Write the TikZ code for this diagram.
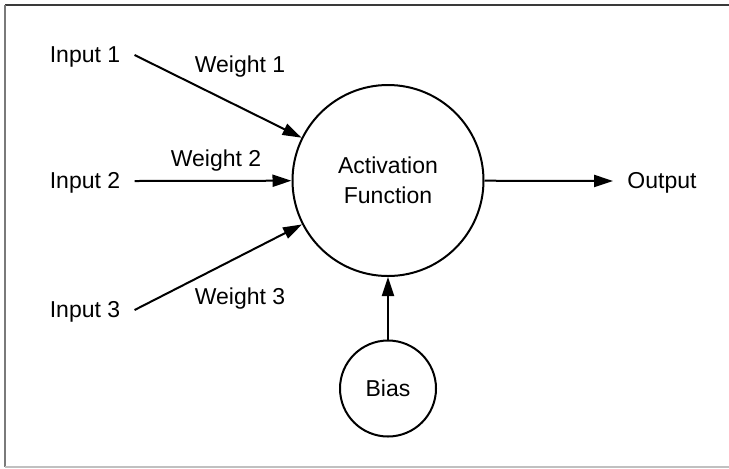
\documentclass[tikz,border=0pt]{standalone}
\usepackage{fontspec}
\setmainfont{Liberation Sans}
\usetikzlibrary{arrows.meta,positioning}
\definecolor{FrameDark}{HTML}{3A3A3A}
\definecolor{FrameMid}{HTML}{7A7A7A}
\definecolor{FrameLight}{HTML}{C0C0C0}

\begin{document}
\begin{tikzpicture}[x=0.5pt,y=-0.5pt, every node/.style={font=\fontsize{11.5}{15}\selectfont},
 unit/.style={draw,circle,line width=1pt,inner sep=0pt,align=center},
 lbl/.style={inner xsep=7pt,inner ysep=2pt},
 arr/.style={-{Triangle[length=9.5pt,width=6pt]},line width=1pt}]
\useasboundingbox (0,0) rectangle (729,468);
\draw[FrameDark,line width=1pt] (5,5) -- (729,5);
\draw[FrameMid,line width=1pt] (5,5) -- (5,467);
\draw[FrameLight,line width=1pt] (5,467) -- (729,467);
\node[unit,minimum size=95.5pt] (act) at (388,180.5) {Activation\\Function};
\node[unit,minimum size=48pt] (bias) at (388,388.5) {Bias};
\node[lbl] (in1) at (85,57) {Input 1};
\node[lbl] (in2) at (85,183) {Input 2};
\node[lbl] (in3) at (85,312) {Input 3};
\node[lbl] (out) at (662,183) {Output};
\node (w1) at (240,67) {Weight 1};
\node (w2) at (216,161) {Weight 2};
\node (w3) at (240,299) {Weight 3};
\draw[arr] ([yshift=1pt]in1.east) -- (act);
\draw[arr] ([yshift=1pt]in2.east) -- (act);
\draw[arr] ([yshift=1pt]in3.east) -- (act);
\draw[arr] (bias) -- (act);
\draw[arr] (act) -- ([yshift=1pt]out.west);
\end{tikzpicture}
\end{document}
